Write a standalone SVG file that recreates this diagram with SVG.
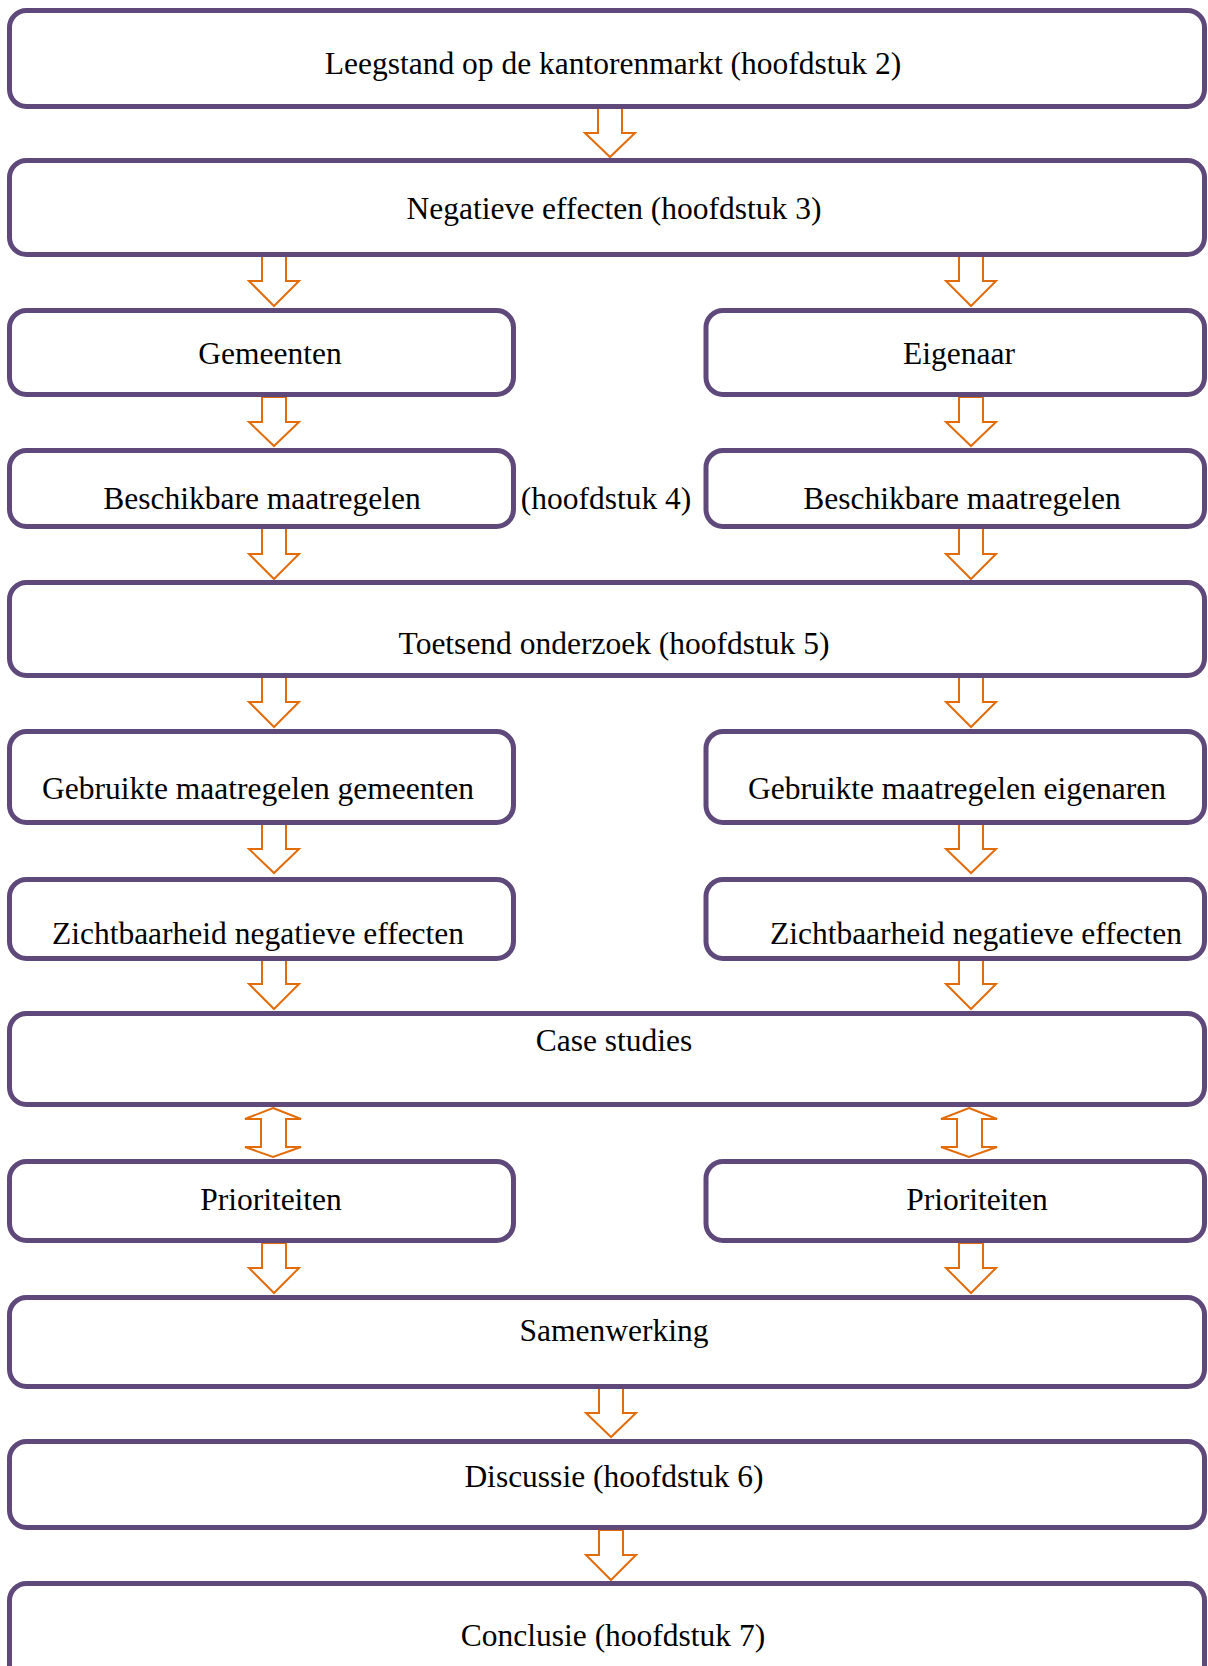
<svg xmlns="http://www.w3.org/2000/svg" width="1208" height="1666" viewBox="0 0 1208 1666">
<style>
.box{fill:#fff;stroke:#5F497A;stroke-width:5}
.arr{fill:#fff;stroke:#E36C0A;stroke-width:2;stroke-linejoin:miter}
text{font-family:"Liberation Serif","DejaVu Serif",serif;font-size:31.5px;fill:#000;text-anchor:middle}
</style>
<rect width="1208" height="1666" fill="#fff"/>
<g id="connectors">
<path class="arr" d="M598,108 L622,108 L622,133 L635,133 L610,157 L585,133 L598,133 Z"/>
<path class="arr" d="M262,255 L286,255 L286,281 L299,281 L274,306 L249,281 L262,281 Z"/>
<path class="arr" d="M959,255 L983,255 L983,281 L996,281 L971,306 L946,281 L959,281 Z"/>
<path class="arr" d="M262,397 L286,397 L286,422 L299,422 L274,446 L249,422 L262,422 Z"/>
<path class="arr" d="M959,397 L983,397 L983,422 L996,422 L971,446 L946,422 L959,422 Z"/>
<path class="arr" d="M262,528 L286,528 L286,554 L299,554 L274,579 L249,554 L262,554 Z"/>
<path class="arr" d="M959,528 L983,528 L983,554 L996,554 L971,579 L946,554 L959,554 Z"/>
<path class="arr" d="M262,677 L286,677 L286,702 L299,702 L274,727 L249,702 L262,702 Z"/>
<path class="arr" d="M959,677 L983,677 L983,702 L996,702 L971,727 L946,702 L959,702 Z"/>
<path class="arr" d="M262,824 L286,824 L286,849 L299,849 L274,873 L249,849 L262,849 Z"/>
<path class="arr" d="M959,824 L983,824 L983,849 L996,849 L971,873 L946,849 L959,849 Z"/>
<path class="arr" d="M262,959 L286,959 L286,984 L299,984 L274,1009 L249,984 L262,984 Z"/>
<path class="arr" d="M959,959 L983,959 L983,984 L996,984 L971,1009 L946,984 L959,984 Z"/>
<path class="arr" d="M273,1108 L301,1119 L286,1119 L286,1147 L301,1147 L273,1157 L245,1147 L261,1147 L261,1119 L245,1119 Z"/>
<path class="arr" d="M969,1108 L997,1119 L982,1119 L982,1147 L997,1147 L969,1157 L941,1147 L957,1147 L957,1119 L941,1119 Z"/>
<path class="arr" d="M262,1243 L286,1243 L286,1268 L299,1268 L274,1293 L249,1268 L262,1268 Z"/>
<path class="arr" d="M959,1243 L983,1243 L983,1268 L996,1268 L971,1293 L946,1268 L959,1268 Z"/>
<path class="arr" d="M599,1388 L623,1388 L623,1413 L636,1413 L611,1437 L586,1413 L599,1413 Z"/>
<path class="arr" d="M599,1530 L623,1530 L623,1555 L636,1555 L611,1580 L586,1555 L599,1555 Z"/>
</g>
<g id="n1"><rect class="box" x="9.5" y="10.5" width="1195" height="96" rx="17"/><text x="613" y="74">Leegstand op de kantorenmarkt (hoofdstuk 2)</text></g>
<g id="n2"><rect class="box" x="9.5" y="160.5" width="1195" height="94" rx="17"/><text x="614" y="219">Negatieve effecten (hoofdstuk 3)</text></g>
<g id="n3"><rect class="box" x="9.5" y="310.5" width="504" height="84" rx="17"/><text x="270" y="364">Gemeenten</text></g>
<g id="n4"><rect class="box" x="706" y="310.5" width="498.5" height="84" rx="17"/><text x="959" y="364">Eigenaar</text></g>
<g id="n5"><rect class="box" x="9.5" y="450.5" width="504" height="76" rx="17"/><text x="262" y="509">Beschikbare maatregelen</text></g>
<g id="n6"><text x="606" y="509">(hoofdstuk 4)</text></g>
<g id="n7"><rect class="box" x="706" y="450.5" width="498.5" height="76" rx="17"/><text x="962" y="509">Beschikbare maatregelen</text></g>
<g id="n8"><rect class="box" x="9.5" y="582.5" width="1195" height="93" rx="17"/><text x="614" y="654">Toetsend onderzoek (hoofdstuk 5)</text></g>
<g id="n9"><rect class="box" x="9.5" y="731.5" width="504" height="91" rx="17"/><text x="258" y="799">Gebruikte maatregelen gemeenten</text></g>
<g id="n10"><rect class="box" x="706" y="731.5" width="498.5" height="91" rx="17"/><text x="957" y="799">Gebruikte maatregelen eigenaren</text></g>
<g id="n11"><rect class="box" x="9.5" y="879.5" width="504" height="79" rx="17"/><text x="258" y="944">Zichtbaarheid negatieve effecten</text></g>
<g id="n12"><rect class="box" x="706" y="879.5" width="498.5" height="79" rx="17"/><text x="976" y="944">Zichtbaarheid negatieve effecten</text></g>
<g id="n13"><rect class="box" x="9.5" y="1013.5" width="1195" height="91" rx="17"/><text x="614" y="1051">Case studies</text></g>
<g id="n14"><rect class="box" x="9.5" y="1161.5" width="504" height="79" rx="17"/><text x="271" y="1210">Prioriteiten</text></g>
<g id="n15"><rect class="box" x="706" y="1161.5" width="498.5" height="79" rx="17"/><text x="977" y="1210">Prioriteiten</text></g>
<g id="n16"><rect class="box" x="9.5" y="1297.5" width="1195" height="89" rx="17"/><text x="614" y="1341">Samenwerking</text></g>
<g id="n17"><rect class="box" x="9.5" y="1441.5" width="1195" height="86" rx="17"/><text x="614" y="1487">Discussie (hoofdstuk 6)</text></g>
<g id="n18"><rect class="box" x="9.5" y="1583.5" width="1195" height="120" rx="17"/><text x="613" y="1646">Conclusie (hoofdstuk 7)</text></g>
</svg>
